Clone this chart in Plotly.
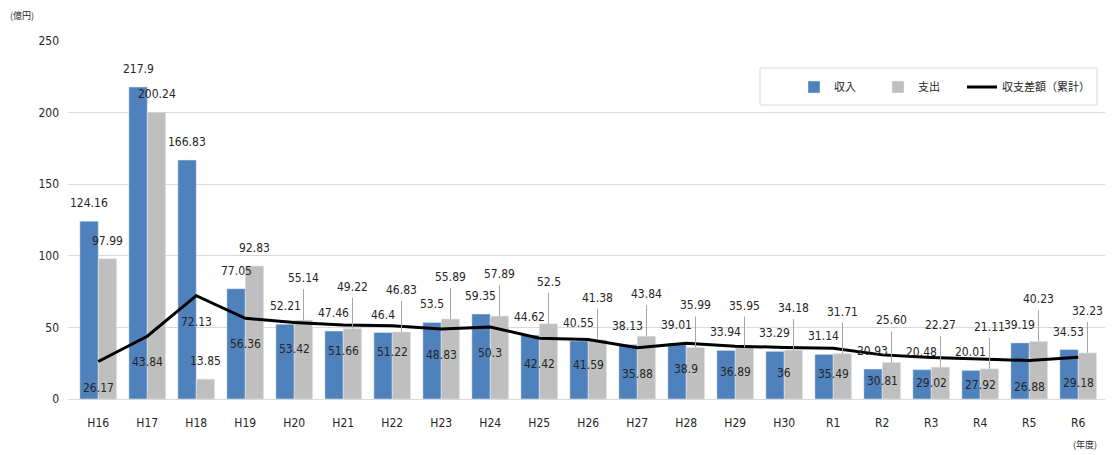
import plotly.graph_objects as go

years = ["H16", "H17", "H18", "H19", "H20", "H21", "H22", "H23", "H24", "H25", "H26",
         "H27", "H28", "H29", "H30", "R1", "R2", "R3", "R4", "R5", "R6"]
income = [124.16, 217.9, 166.83, 77.05, 52.21, 47.46, 46.4, 53.5, 59.35, 44.62, 40.55,
          38.13, 39.01, 33.94, 33.29, 31.14, 20.93, 20.48, 20.01, 39.19, 34.53]
expense = [97.99, 200.24, 13.85, 92.83, 55.14, 49.22, 46.83, 55.89, 57.89, 52.5, 41.38,
           43.84, 35.99, 35.95, 34.18, 31.71, 25.60, 22.27, 21.11, 40.23, 32.23]
expense_labels = ["97.99", "200.24", "13.85", "92.83", "55.14", "49.22", "46.83", "55.89",
                  "57.89", "52.5", "41.38", "43.84", "35.99", "35.95", "34.18", "31.71",
                  "25.60", "22.27", "21.11", "40.23", "32.23"]
balance = [26.17, 43.84, 72.13, 56.36, 53.42, 51.66, 51.22, 48.83, 50.3, 42.42, 41.59,
           35.88, 38.9, 36.89, 36, 35.49, 30.81, 29.02, 27.92, 26.88, 29.18]
y_ticks = [0, 50, 100, 150, 200, 250]

BLUE = "#4F81BD"
GRAY = "#BFBFBF"
GRID = "#D9D9D9"
TXT = "#262626"
FONT = "Liberation Sans Narrow, DejaVu Sans Condensed, Roboto, Noto Sans CJK JP, sans-serif"
CJK = "Noto Sans CJK JP, sans-serif"

OFF = 8  # page body margin
W, H = 1116 - OFF, 455 - OFF
# target page pixels of plot area
P_LEFT, P_RIGHT, P_TOP, P_BOTTOM = 68, 1105, 41, 399
ML, MT = P_LEFT - OFF, P_TOP - OFF
MR, MB = W - (P_RIGHT - OFF), H - (P_BOTTOM - OFF)
PW = P_RIGHT - P_LEFT
PH = P_BOTTOM - P_TOP
BARGAP = 0.25
half_bar_px = PW / len(years) * (1 - BARGAP) / 4  # offset to centre of each bar


def px_x(px):
    return (px - P_LEFT) / PW


def px_y(py):
    return (P_BOTTOM - py) / PH


def fmt(v):
    return str(int(v)) if v == int(v) else str(v)


fig = go.Figure()
fig.add_trace(go.Bar(x=years, y=income, name="収入", marker_color=BLUE, legendwidth=39))
fig.add_trace(go.Bar(x=years, y=expense, name="支出", marker_color=GRAY, legendwidth=39))
fig.add_trace(go.Scatter(x=years, y=balance, name="収支差額（累計）", mode="lines",
                         line=dict(color="black", width=3), legendwidth=95))

ann = []
shapes = []
for i, c in enumerate(years):
    ann.append(dict(x=c, y=income[i], text=fmt(income[i]),
                    xshift=-half_bar_px, yshift=18, showarrow=False,
                    font=dict(size=12, color=TXT, family=FONT)))
    raised = i >= 4
    ann.append(dict(x=c, y=expense[i], text=expense_labels[i],
                    xshift=half_bar_px, yshift=42 if raised else 18, showarrow=False,
                    font=dict(size=12, color=TXT, family=FONT)))
    if raised:
        shapes.append(dict(type="line", xref="x", yref="y", xsizemode="pixel", ysizemode="pixel",
                           xanchor=i, yanchor=expense[i], x0=half_bar_px, x1=half_bar_px,
                           y0=0, y1=31, line=dict(color="#A6A6A6", width=1)))
    ann.append(dict(x=c, y=balance[i], text=fmt(balance[i]),
                    yshift=-26, showarrow=False,
                    font=dict(size=12, color=TXT, family=FONT)))

ann.append(dict(xref="paper", yref="paper", x=px_x(8), y=px_y(15),
                xanchor="left", yanchor="middle", text="(億円)", showarrow=False,
                font=dict(size=9, color=TXT, family=CJK)))
ann.append(dict(xref="paper", yref="paper", x=px_x(1085), y=px_y(444),
                xanchor="center", yanchor="middle", text="(年度)", showarrow=False,
                font=dict(size=9, color=TXT, family=CJK)))

# legend frame
shapes.append(dict(type="rect", xref="paper", yref="paper",
                   x0=px_x(760), x1=px_x(1097), y0=px_y(105), y1=px_y(68),
                   line=dict(color=GRID, width=1), fillcolor="white", layer="above"))

fig.update_layout(
    width=W, height=H,
    margin=dict(l=ML, r=MR, t=MT, b=MB, autoexpand=False),
    paper_bgcolor="white", plot_bgcolor="white",
    barmode="group", bargap=BARGAP, bargroupgap=0,
    font=dict(family=FONT, size=12, color=TXT),
    showlegend=True,
    legend=dict(orientation="h", xref="paper", yref="paper",
                x=px_x(794), y=px_y(87), xanchor="left", yanchor="middle",
                bgcolor="rgba(0,0,0,0)", borderwidth=0, itemwidth=30,
                font=dict(size=11, color=TXT, family=CJK)),
    annotations=ann,
    shapes=shapes,
)
fig.update_xaxes(type="category", showgrid=False, showline=True, linecolor=GRID, linewidth=1,
                 ticks="", tickfont=dict(size=12, color=TXT, family=FONT), ticklabelstandoff=13)
fig.update_yaxes(range=[0, 250], tickvals=y_ticks, showgrid=True, gridcolor=GRID, gridwidth=1,
                 zeroline=False, showline=False, ticks="",
                 tickfont=dict(size=12, color=TXT, family=FONT), ticklabelstandoff=8)

fig.write_html("out.html")
